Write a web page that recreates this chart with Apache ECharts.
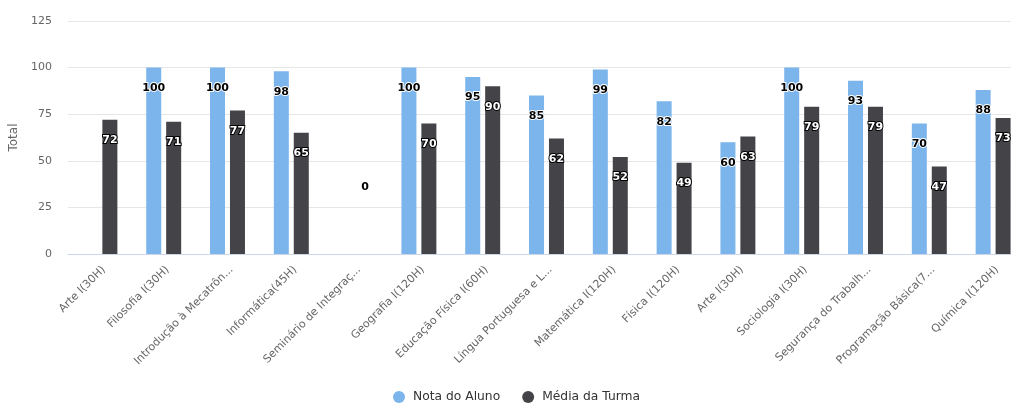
<!DOCTYPE html>
<html>
<head>
<meta charset="utf-8">
<script src="https://cdn.jsdelivr.net/npm/echarts@6/dist/echarts.min.js"></script>
<style>
  html, body { margin: 0; padding: 0; background: #fff; }
  #chart { width: 1011px; height: 403px; }
</style>
</head>
<body>
<div id="chart"></div>
<script>
const categories = [
  "Arte I(30H)",
  "Filosofia I(30H)",
  "Introdução à Mecatrôn...",
  "Informática(45H)",
  "Seminário de Integraç...",
  "Geografia I(120H)",
  "Educação Física I(60H)",
  "Língua Portuguesa e L...",
  "Matemática I(120H)",
  "Física I(120H)",
  "Arte I(30H)",
  "Sociologia I(30H)",
  "Segurança do Trabalh...",
  "Programação Básica(7...",
  "Química I(120H)"
];
const notaAluno = [null, 100, 100, 98, null, 100, 95, 85, 99, 82, 60, 100, 93, 70, 88];
const mediaTurma = [72, 71, 77, 65, 0, 70, 90, 62, 52, 49, 63, 79, 79, 47, 73];
const yTicks = [0, 25, 50, 75, 100, 125];

const FONT = '"DejaVu Sans", "Lucida Grande", Arial, sans-serif';

function barLabel(onDark) {
  return {
    show: true, position: 'insideTop', distance: 15,
    fontFamily: FONT, fontSize: 11, fontWeight: 'bold',
    color: onDark ? '#fff' : '#000',
    textBorderColor: onDark ? '#000' : '#fff',
    textBorderWidth: 2
  };
}

const mediaData = mediaTurma.map(v => {
  if (v === 0) {
    return { value: v, label: { show: true, position: 'top', distance: 61,
      fontFamily: FONT, fontSize: 11, fontWeight: 'bold',
      color: '#000', textBorderColor: '#fff', textBorderWidth: 2 } };
  }
  return v;
});

const chart = echarts.init(document.getElementById('chart'), null, { renderer: 'canvas' });
chart.setOption({
  animation: false,
  backgroundColor: '#ffffff',
  textStyle: { fontFamily: FONT },
  grid: { left: 68, right: -14, top: 21, bottom: 149, containLabel: false, outerBoundsMode: 'none' },
  legend: {
    bottom: -5, left: 388, itemGap: 22, itemWidth: 12, itemHeight: 12,
    icon: 'circle',
    textStyle: { fontFamily: FONT, fontSize: 12.3, color: '#333', padding: [0, 0, 0, 3] },
    data: ['Nota do Aluno', 'Média da Turma']
  },
  xAxis: {
    type: 'category',
    data: categories,
    axisLine: { lineStyle: { color: '#ccd6eb', width: 1 } },
    axisTick: { show: false },
    axisLabel: { rotate: 45, interval: 0, fontFamily: FONT, fontSize: 11, color: '#666',
      margin: 10, verticalAlign: 'top' }
  },
  yAxis: {
    type: 'value',
    min: yTicks[0], max: yTicks[yTicks.length - 1], interval: 25,
    name: 'Total', nameLocation: 'middle', nameGap: 44,
    nameTextStyle: { fontFamily: FONT, fontSize: 12, color: '#666' },
    axisLine: { show: false },
    axisTick: { show: false },
    axisLabel: { fontFamily: FONT, fontSize: 11, color: '#666', margin: 16 },
    splitLine: { lineStyle: { color: '#e6e6e6', width: 1 } }
  },
  series: [
    {
      name: 'Nota do Aluno', type: 'bar', data: notaAluno,
      barWidth: 15, barGap: '33%',
      itemStyle: { color: '#7cb5ec' },
      label: barLabel(false)
    },
    {
      name: 'Média da Turma', type: 'bar', data: mediaData,
      barWidth: 15,
      itemStyle: { color: '#434348' },
      label: barLabel(true)
    }
  ]
});
</script>
</body>
</html>
